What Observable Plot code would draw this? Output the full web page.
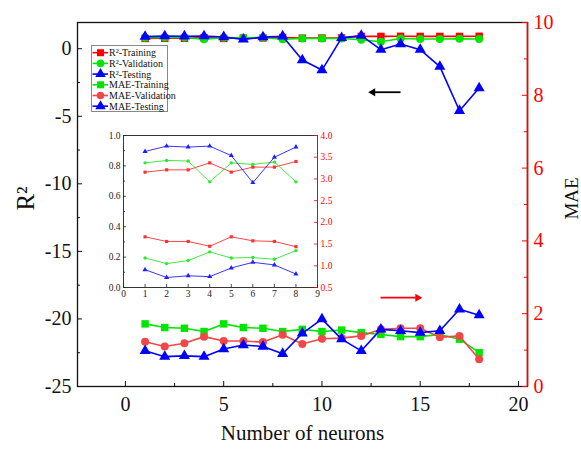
<!DOCTYPE html>
<html><head><meta charset="utf-8">
<script src="https://cdn.jsdelivr.net/npm/d3@7"></script>
<script src="https://cdn.jsdelivr.net/npm/@observablehq/plot@0.6"></script>
<style>
body{margin:0;background:#fff;}
#wrap{position:relative;width:581px;height:449px;overflow:hidden;background:#fff;font-family:"Liberation Serif","Times New Roman","DejaVu Serif",serif;}
#wrap svg{overflow:visible;}
#wrap svg text{font-family:"Liberation Serif","Times New Roman","DejaVu Serif",serif;}
#inset{position:absolute;left:90px;top:125px;}
#legend{position:absolute;left:0;top:0;pointer-events:none;}
</style></head><body><div id="wrap"><div id="main"></div><div id="inset"></div><svg id="legend" width="581" height="449"></svg></div>
<script>
// ---------- data (main chart) ----------
const neurons = [1,2,3,4,5,6,7,8,9,10,11,12,13,14,15,16,17,18];
const r2Training   = [0.759,0.774,0.774,0.82,0.759,0.792,0.792,0.829,0.78,0.79,0.80,0.91,0.91,0.92,0.91,0.91,0.91,0.92];
const r2Validation = [0.82,0.836,0.832,0.695,0.82,0.81,0.825,0.695,0.76,0.76,0.76,0.66,0.52,0.76,0.72,0.72,0.74,0.72];
const r2Testing    = [0.895,0.93,0.924,0.93,0.868,0.69,0.857,0.924,-0.84,-1.58,0.80,0.97,-0.07,0.35,-0.07,-1.33,-4.59,-2.91];
const maeTraining   = [1.72,1.62,1.60,1.51,1.72,1.62,1.60,1.51,1.57,1.51,1.55,1.48,1.43,1.37,1.37,1.43,1.30,0.93];
const maeValidation = [1.23,1.10,1.19,1.37,1.25,1.25,1.22,1.42,1.17,1.31,1.33,1.39,1.57,1.60,1.60,1.35,1.39,0.75];
const maeTesting    = [0.98,0.82,0.84,0.82,1.03,1.14,1.10,0.90,1.46,1.85,1.30,0.98,1.57,1.53,1.48,1.53,2.12,1.96];
const xTicks = [0,5,10,15,20];
const xMinorTicks = [2.5,7.5,12.5,17.5];
const yTicks = [-25,-20,-15,-10,-5,0];
const yMinorTicks = [-22.5,-17.5,-12.5,-7.5,-2.5];
const maeTicks = [0,2,4,6,8,10];
const maeMinorTicks = [1,3,5,7,9];
// annotation arrows (data units)
const arrowLeft  = [{x1:14.0, x2:12.36, y:-3.22}];
const arrowRight = [{x1:12.98, x2:15.1, mae:2.44}];

// ---------- data (inset) ----------
const insetNeurons = [1,2,3,4,5,6,7,8];
const insetR2Training   = [0.759,0.774,0.774,0.82,0.759,0.792,0.792,0.829];
const insetR2Validation = [0.82,0.836,0.832,0.695,0.82,0.81,0.825,0.695];
const insetR2Testing    = [0.895,0.93,0.924,0.93,0.868,0.69,0.857,0.924];
const insetMaeRed   = [1.667,1.56,1.56,1.45,1.667,1.575,1.56,1.44];
const insetMaeGreen = [1.18,1.05,1.12,1.32,1.18,1.19,1.15,1.35];
const insetMaeBlue  = [0.91,0.73,0.77,0.75,0.95,1.08,1.02,0.81];
const insetXTicks = [0,1,2,3,4,5,6,7,8,9];
const insetYTicks = [0,0.2,0.4,0.6,0.8,1.0];
const insetYMinor = [0.1,0.3,0.5,0.7,0.9];
const insetMaeTicks = [0.5,1.0,1.5,2.0,2.5,3.0,3.5,4.0];

const FONT = '"Liberation Serif","Times New Roman","DejaVu Serif",serif';
const RED = "#ff0000", GREEN = "#00e600", BLUE = "#0000ff", SALMON = "#f04848";

// ---------- main chart ----------
const W = 581, H = 449, mL = 77, mR = 54, mT = 22, mB = 63;
const plotW = W - mL - mR, plotH = H - mT - mB;
const xDomain = [-2.44, 20.46], yDomain = [-25, 1.94], maeMax = 10;
const maeToY = m => yDomain[0] + m * (yDomain[1] - yDomain[0]) / maeMax;
const yToMae = y => (y - yDomain[0]) * maeMax / (yDomain[1] - yDomain[0]);

const seriesDefs = [
  {name:"R²-Training",    vals:r2Training,    color:RED,    symbol:"square",   r:4.2, mae:false},
  {name:"R²-Validation",  vals:r2Validation,  color:GREEN,  symbol:"circle",   r:4.0, mae:false},
  {name:"R²-Testing",     vals:r2Testing,     color:BLUE,   symbol:"triangle", r:4.1, mae:false},
  {name:"MAE-Training",   vals:maeTraining,   color:GREEN,  symbol:"square",   r:4.2, mae:true},
  {name:"MAE-Validation", vals:maeValidation, color:SALMON, symbol:"circle",   r:4.0, mae:true},
  {name:"MAE-Testing",    vals:maeTesting,    color:BLUE,   symbol:"triangle", r:4.1, mae:true}
];

const seriesMarks = seriesDefs.flatMap(s => {
  const rows = neurons.map((n, i) => ({n, v: s.mae ? maeToY(s.vals[i]) : s.vals[i]}));
  return [
    Plot.line(rows, {x:"n", y:"v", stroke:s.color, strokeWidth:1.6}),
    Plot.dot(rows, {x:"n", y:"v", fill:s.color, stroke:"none", symbol:s.symbol, r:s.r})
  ];
});

const main = Plot.plot({
  width: W, height: H, marginLeft: mL, marginRight: mR, marginTop: mT, marginBottom: mB,
  style: {fontFamily: FONT, background: "transparent", overflow: "visible"},
  x: {domain: xDomain}, y: {domain: yDomain},
  marks: [
    Plot.frame({stroke:"#111", strokeWidth:1.3}),
    Plot.ruleX([xDomain[1]], {stroke:RED, strokeWidth:1.6}),
    Plot.ruleX(xTicks, {stroke:"#111", insetTop: plotH - 5}),
    Plot.ruleX(xMinorTicks, {stroke:"#111", insetTop: plotH - 3}),
    Plot.ruleY(yTicks, {stroke:"#111", insetRight: plotW - 5}),
    Plot.ruleY(yMinorTicks, {stroke:"#111", insetRight: plotW - 3}),
    Plot.ruleY(maeTicks.map(maeToY), {stroke:RED, insetLeft: plotW - 5}),
    Plot.ruleY(maeMinorTicks.map(maeToY), {stroke:RED, insetLeft: plotW - 3}),
    Plot.axisX({ticks:xTicks, tickSize:0, tickPadding:10, fontSize:20, fontFamily:FONT, label:null, fill:"#111", tickFormat:d => String(d)}),
    Plot.axisY({ticks:yTicks, tickSize:0, tickPadding:6, fontSize:20, fontFamily:FONT, label:null, fill:"#111", tickFormat:d => String(d)}),
    Plot.axisY({anchor:"right", ticks:maeTicks.map(maeToY), tickFormat: d => String(Math.round(yToMae(d))),
                tickSize:0, tickPadding:6, fontSize:20, fontFamily:FONT, label:null, fill:RED}),
    Plot.text(["R²"], {text:d=>d, frameAnchor:"left", textAnchor:"middle", dx:-52, dy:-6, rotate:-90, fontSize:25, fontFamily:FONT, fill:"#111"}),
    Plot.text(["MAE"], {text:d=>d, frameAnchor:"right", textAnchor:"middle", dx:44, dy:-6, rotate:-90, fontSize:19, fontFamily:FONT, fill:"#111"}),
    Plot.text(["Number of neurons"], {text:d=>d, frameAnchor:"bottom", dy:53, fontSize:21, fontFamily:FONT, fill:"#111"}),
    ...seriesMarks,
    // annotation arrows
    Plot.link(arrowLeft, {x1:"x1", x2:d=>d.x2 + 0.3, y1:"y", y2:"y", stroke:"#000", strokeWidth:1.8}),
    Plot.dot(arrowLeft, {x:"x2", y:"y", symbol:"triangle", r:3, rotate:-90, dx:4.5, fill:"#000", stroke:"none"}),
    Plot.link(arrowRight, {x1:"x1", x2:d=>d.x2 - 0.3, y1:d=>maeToY(d.mae), y2:d=>maeToY(d.mae), stroke:RED, strokeWidth:1.8}),
    Plot.dot(arrowRight, {x:"x2", y:d=>maeToY(d.mae), symbol:"triangle", r:3, rotate:90, dx:-4.5, fill:RED, stroke:"none"})
  ]
});
document.getElementById("main").appendChild(main);

// ---------- inset ----------
const iW = 260, iH = 185, imL = 33, imT = 10, imR = 33, imB = 23;
const iPlotW = iW - imL - imR, iPlotH = iH - imT - imB;
const iMaeDomain = [0.5, 4.0];
const iMaeToY = m => (m - iMaeDomain[0]) / (iMaeDomain[1] - iMaeDomain[0]);
const iYToMae = y => iMaeDomain[0] + y * (iMaeDomain[1] - iMaeDomain[0]);
const IRED = "#ff3030", IGREEN = "#2de82d", IBLUE = "#2020ff";
const insetDefs = [
  {vals:insetR2Training,   color:IRED,   symbol:"square",   r:1.8, mae:false},
  {vals:insetR2Validation, color:IGREEN, symbol:"circle",   r:1.7, mae:false},
  {vals:insetR2Testing,    color:IBLUE,  symbol:"triangle", r:1.9, mae:false},
  {vals:insetMaeRed,       color:IRED,   symbol:"square",   r:1.8, mae:true},
  {vals:insetMaeGreen,     color:IGREEN, symbol:"circle",   r:1.7, mae:true},
  {vals:insetMaeBlue,      color:IBLUE,  symbol:"triangle", r:1.9, mae:true}
];
const insetMarks = insetDefs.flatMap(s => {
  const rows = insetNeurons.map((n, i) => ({n, v: s.mae ? iMaeToY(s.vals[i]) : s.vals[i]}));
  return [
    Plot.line(rows, {x:"n", y:"v", stroke:s.color, strokeWidth:0.9}),
    Plot.dot(rows, {x:"n", y:"v", fill:s.color, stroke:"none", symbol:s.symbol, r:s.r})
  ];
});
const inset = Plot.plot({
  width: iW, height: iH, marginLeft: imL, marginRight: imR, marginTop: imT, marginBottom: imB,
  style: {fontFamily: FONT, background: "transparent", overflow: "visible"},
  x: {domain: [0, 9]}, y: {domain: [0, 1]},
  marks: [
    Plot.frame({stroke:"#222", strokeWidth:0.9}),
    Plot.ruleX([9], {stroke:RED, strokeWidth:1}),
    Plot.ruleX(insetXTicks, {stroke:"#222", strokeWidth:0.8, insetTop: iPlotH - 3}),
    Plot.ruleY(insetYTicks, {stroke:"#222", strokeWidth:0.8, insetRight: iPlotW - 3}),
    Plot.ruleY(insetYMinor, {stroke:"#222", strokeWidth:0.8, insetRight: iPlotW - 2}),
    Plot.ruleY(insetMaeTicks.map(iMaeToY), {stroke:RED, strokeWidth:0.8, insetLeft: iPlotW - 3}),
    Plot.axisX({ticks:insetXTicks, tickSize:0, tickPadding:3, fontSize:9.5, fontFamily:FONT, label:null, fill:"#222"}),
    Plot.axisY({ticks:insetYTicks, tickSize:0, tickPadding:3, fontSize:9.5, fontFamily:FONT, label:null, fill:"#222", tickFormat:d3.format(".1f")}),
    Plot.axisY({anchor:"right", ticks:insetMaeTicks.map(iMaeToY), tickFormat:d => d3.format(".1f")(iYToMae(d)),
                tickSize:0, tickPadding:3, fontSize:9.5, fontFamily:FONT, label:null, fill:RED}),
    ...insetMarks
  ]
});
document.getElementById("inset").appendChild(inset);

// ---------- legend ----------
const lg = d3.select("#legend").style("font-family", FONT);
const lx = 91, ly = 45, lw = 76, lh = 66, rowH = 10.7, row0 = 52.7;
lg.append("rect").attr("x", lx + 0.5).attr("y", ly + 0.5).attr("width", lw).attr("height", lh)
  .attr("fill", "#fff").attr("stroke", "#888").attr("stroke-width", 1);
const symMap = {square: d3.symbolSquare, circle: d3.symbolCircle, triangle: d3.symbolTriangle};
seriesDefs.forEach((s, i) => {
  const y = row0 + i * rowH;
  lg.append("line").attr("x1", 92.5).attr("x2", 108).attr("y1", y).attr("y2", y)
    .attr("stroke", s.color).attr("stroke-width", 1.6);
  lg.append("path").attr("transform", `translate(100.5,${y})`)
    .attr("d", d3.symbol(symMap[s.symbol], Math.PI * s.r * s.r * 0.9)())
    .attr("fill", s.color);
  lg.append("text").attr("x", 109).attr("y", y + 3.4).attr("font-size", 10)
    .attr("font-family", FONT).attr("fill", "#111").text(s.name);
});
</script></body></html>
